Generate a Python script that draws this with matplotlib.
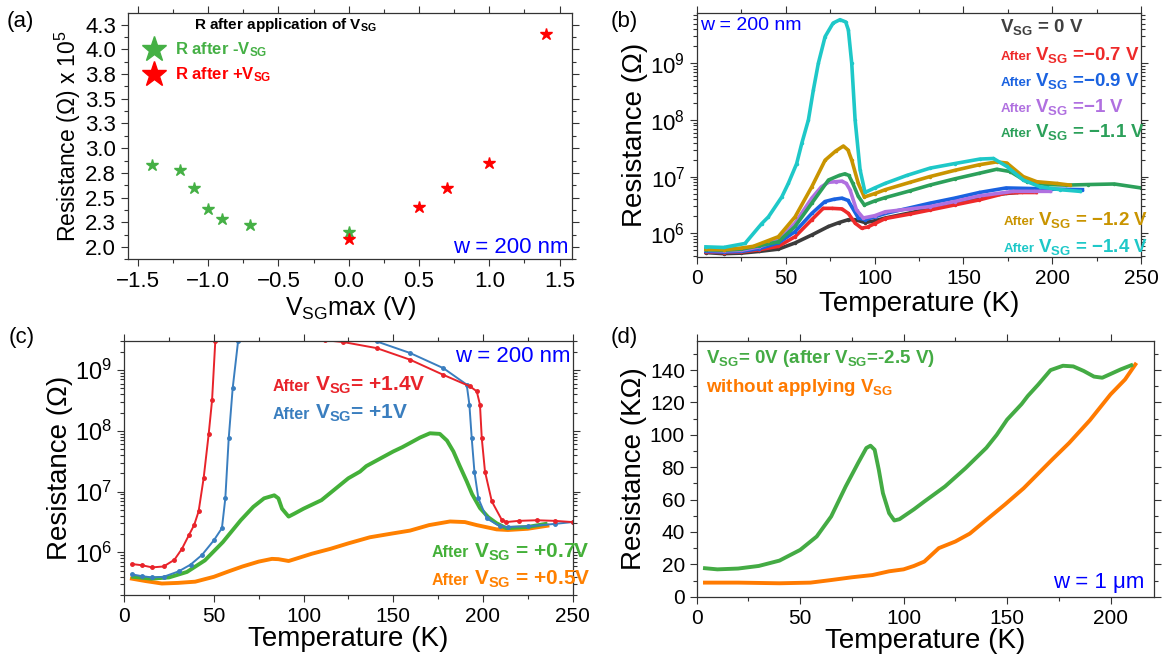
import matplotlib
matplotlib.use("Agg")
import matplotlib.pyplot as plt
import numpy as np
from matplotlib.ticker import MultipleLocator, FixedLocator

plt.rcParams['font.family'] = ['Liberation Sans', 'DejaVu Sans']
plt.rcParams['mathtext.fontset'] = 'custom'
plt.rcParams['mathtext.rm'] = 'Liberation Sans'
plt.rcParams['mathtext.bf'] = 'Liberation Sans:bold'
plt.rcParams['mathtext.it'] = 'Liberation Sans:italic'

# ---- (a) resistance after gate pulse ----
neg_v = [-1.4, -1.2, -1.1, -1.0, -0.9, -0.7, 0.0]
neg_r = [2.83, 2.78, 2.595, 2.38, 2.28, 2.226, 2.155]
pos_v = [0.0, 0.5, 0.7, 1.0, 1.4]
pos_r = [2.08, 2.40, 2.595, 2.85, 4.155]
a_yticks = [2.0, 2.25, 2.5, 2.75, 3.0, 3.25, 3.5, 3.75, 4.0, 4.25]
a_ylabels = ['2.0', '2.3', '2.5', '2.8', '3.0', '3.3', '3.5', '3.8', '4.0', '4.3']

# ---- (b) R(T), values are log10(R / Ohm) ----
b_t0 = [5, 15, 25, 35, 45.8, 55.2, 64.6, 74, 80, 85.2, 89, 94.6, 100, 106, 120, 131, 145, 159, 170, 180]
b_r0 = [5.66, 5.64, 5.65, 5.68, 5.72, 5.83, 5.97, 6.12, 6.19, 6.24, 6.24, 6.19, 6.22, 6.27, 6.36, 6.44, 6.53, 6.63, 6.69, 6.72]
b_t07 = [5, 15, 25, 35, 45.8, 55.2, 64.6, 71, 76, 81.6, 85.2, 89, 92.7, 96, 100, 106, 120, 131, 145, 159, 174, 183, 191]
b_r07 = [5.67, 5.66, 5.67, 5.71, 5.77, 5.94, 6.24, 6.44, 6.44, 6.43, 6.35, 6.18, 6.09, 6.11, 6.17, 6.26, 6.34, 6.41, 6.50, 6.59, 6.71, 6.72, 6.72]
b_t09 = [5, 15, 25, 35, 45.8, 55.2, 64.6, 72, 77, 81.6, 85, 87.1, 90.8, 94.6, 100, 106, 120, 131, 145, 159, 174, 188, 200, 217]
b_r09 = [5.68, 5.67, 5.68, 5.73, 5.83, 6.03, 6.35, 6.56, 6.60, 6.62, 6.58, 6.47, 6.27, 6.24, 6.29, 6.35, 6.45, 6.53, 6.62, 6.72, 6.80, 6.79, 6.78, 6.77]
b_t10 = [5, 15, 25, 35, 45.8, 55.2, 64.6, 70, 74, 78, 81.6, 84, 86.1, 89.8, 93.6, 100, 106, 120, 131, 145, 159, 178, 190, 199]
b_r10 = [5.70, 5.69, 5.70, 5.76, 5.88, 6.18, 6.62, 6.82, 6.90, 6.91, 6.92, 6.88, 6.77, 6.41, 6.27, 6.31, 6.38, 6.43, 6.47, 6.56, 6.66, 6.74, 6.74, 6.74]
b_t11 = [5, 15, 25, 35, 45.8, 55.2, 64.6, 74, 80, 83.3, 85.5, 87.7, 90.8, 94.2, 100, 106, 120, 131, 145, 159, 168.7, 176.3, 185.7, 197, 208, 220, 235, 250]
b_r11 = [5.71, 5.70, 5.72, 5.78, 5.85, 6.12, 6.53, 6.94, 7.02, 7.05, 7.02, 6.88, 6.65, 6.50, 6.57, 6.63, 6.75, 6.85, 6.96, 7.06, 7.13, 7.09, 6.91, 6.86, 6.85, 6.86, 6.87, 6.80]
b_t12 = [5, 15, 25, 31.7, 40, 45.8, 55.2, 64.6, 72.1, 78, 82.4, 85, 87.1, 90.8, 94.2, 100, 106, 120, 131, 145, 159, 168.7, 174.4, 183.7, 191.3, 202.5, 210]
b_r12 = [5.72, 5.71, 5.74, 5.77, 5.87, 5.94, 6.29, 6.82, 7.29, 7.45, 7.54, 7.47, 7.29, 6.88, 6.64, 6.70, 6.77, 6.90, 7.00, 7.11, 7.21, 7.26, 7.24, 7.00, 6.91, 6.88, 6.85]
b_t14 = [5, 15, 27, 36.4, 40.2, 47.7, 51.4, 56.1, 59, 62.7, 65.5, 68.3, 72.1, 76.6, 80.5, 83.7, 85.2, 87.1, 89, 91.8,
         94.6, 100, 105.9, 118, 131.2, 145, 159.3, 166.9, 174.4, 183.7, 193.1, 204.4, 215.6]
b_r14 = [5.76, 5.75, 5.82, 6.17, 6.29, 6.64, 6.88, 7.23, 7.59, 8.0, 8.53, 9.0, 9.47, 9.71, 9.77, 9.73, 9.59, 9.0, 8.0, 7.12,
         6.72, 6.80, 6.88, 7.02, 7.15, 7.23, 7.31, 7.32, 7.18, 6.94, 6.82, 6.77, 6.74]

# ---- (c) R(T) after positive V_SG, log10(R / Ohm) ----
c_t14 = [4.3, 10, 15.5, 22, 28, 32.2, 36, 39, 41.5, 44.3, 47.1, 49, 50.8, 52.5, 98, 104, 112, 122.2, 140.8, 159.4,
         178, 192.9, 196.6, 198.4, 199.4, 201.2, 205, 210.5, 213, 220, 230, 240, 250]
c_r14 = [5.81, 5.79, 5.755, 5.77, 5.88, 6.06, 6.28, 6.45, 6.675, 7.22, 7.94, 8.5, 9.47, 10.0, 10.0, 9.52, 9.49, 9.46, 9.36, 9.17,
         8.92, 8.73, 8.65, 8.43, 7.88, 7.33, 6.84, 6.54, 6.50, 6.52, 6.53, 6.52, 6.50]
c_t10 = [4.3, 10, 15.5, 22, 30.4, 37, 43.4, 50, 54.5, 56.4, 58.3, 60.5, 63.5, 65, 136, 140.8, 159.4, 178, 191,
         192.5, 193.8, 195.3, 197.5, 202.2, 209.6, 214, 225, 240, 250]
c_r10 = [5.64, 5.61, 5.59, 5.60, 5.69, 5.80, 5.96, 6.20, 6.40, 6.89, 7.88, 8.70, 9.47, 10.0, 10.0, 9.47, 9.28, 9.03, 8.76,
         8.43, 7.88, 7.33, 6.89, 6.56, 6.43, 6.42, 6.43, 6.47, 6.50]
c_t07 = [5, 15, 25, 35, 45, 55, 65, 72, 78, 83.7, 86, 88, 91.7, 95, 100, 105, 110, 115, 120, 125, 131.5, 135, 140, 145,
         150, 155, 159.4, 165, 170.5, 176, 180, 183.6, 187, 191, 194, 198.4, 203, 207.7, 213, 225, 235]
c_r07 = [5.60, 5.57, 5.59, 5.68, 5.87, 6.17, 6.53, 6.75, 6.89, 6.94, 6.89, 6.72, 6.59, 6.64, 6.72, 6.79, 6.86, 6.98,
         7.10, 7.22, 7.33, 7.42, 7.50, 7.58, 7.66, 7.73, 7.80, 7.89, 7.96, 7.95, 7.84, 7.66, 7.43, 7.17, 6.96, 6.73,
         6.58, 6.48, 6.40, 6.42, 6.47]
c_t05 = [4.3, 12, 21, 30, 39.6, 50, 58.3, 66, 75, 82.4, 86, 91.7, 95, 104.7, 115, 125, 137, 149, 159.4, 170, 181.7,
         190, 196.6, 207.7, 214, 225, 236]
c_r05 = [5.57, 5.53, 5.49, 5.50, 5.52, 5.60, 5.69, 5.77, 5.85, 5.895, 5.89, 5.86, 5.89, 5.98, 6.06, 6.15, 6.25, 6.31,
         6.36, 6.45, 6.51, 6.50, 6.45, 6.38, 6.37, 6.39, 6.44]

# ---- (d) w = 1 um device, R in kOhm ----
d_tg = [4, 10, 20, 30, 40, 50, 58, 65, 72, 78, 82, 84, 86, 88, 90, 93, 95.5, 98, 105, 110, 120, 130, 136, 140, 145,
        150, 157, 160, 165, 171, 177, 182, 187, 192, 196, 200, 205, 210]
d_rg = [17.6, 16.9, 17.4, 19.0, 22.3, 28.9, 37.2, 49.6, 68.1, 82.6, 91.9, 93.3, 90.8, 78.5, 64.0, 51.6, 47.1, 47.9,
        54.0, 58.8, 68.1, 79.5, 87.0, 92.0, 100.0, 109.4, 119.0, 124.0, 131.0, 140.0, 142.7, 142.3, 139.5, 136.0,
        135.3, 137.6, 140.5, 143.0]
d_to = [4, 20, 40, 55, 65, 75, 85, 93, 100, 105, 110, 117, 125, 132, 140, 149, 158, 165, 172, 180, 190, 200, 207, 212]
d_ro = [8.7, 8.7, 8.3, 8.7, 10.3, 12.0, 13.4, 15.7, 16.9, 19.0, 21.7, 30.0, 34.1, 39.0, 47.5, 57.0, 67.0, 76.0, 85.0,
        95.0, 109.0, 125.0, 134.2, 143.5]

SPINE = '#333333'


def style(ax, xs=15, ys=15):
    for s in ax.spines.values():
        s.set_color(SPINE)
        s.set_linewidth(0.9)
    ax.tick_params(which='both', direction='out', top=True, right=True, colors=SPINE, width=0.8)
    ax.tick_params(which='major', length=5)
    ax.tick_params(which='minor', length=3)
    ax.tick_params(axis='x', labelsize=xs, labelcolor='black')
    ax.tick_params(axis='y', labelsize=ys, labelcolor='black')


def after_label(ax, x, y, rest, color, small, big, gap=0.008):
    ax.text(x - gap, y, 'After', transform=ax.transAxes, ha='right', va='baseline',
            color=color, fontsize=small, fontweight='bold')
    ax.text(x, y, rest, transform=ax.transAxes, ha='left', va='baseline',
            color=color, fontsize=big, fontweight='bold')


fig = plt.figure(figsize=(11.66, 6.55), dpi=100)

# ================= (a)
ax = fig.add_axes([0.1098, 0.604, 0.381, 0.3765])
green_a = '#45b045'
ax.plot(neg_v, neg_r, '*', ls='none', color=green_a, ms=9, label=r'R after -V$_{\mathbf{SG}}$')
ax.plot(pos_v, pos_r, '*', ls='none', color='#ff0000', ms=9, label=r'R after +V$_{\mathbf{SG}}$')
ax.set_xlim(-1.57, 1.59)
ax.set_ylim(1.875, 4.37)
ax.xaxis.set_major_locator(MultipleLocator(0.5))
ax.xaxis.set_minor_locator(MultipleLocator(0.25))
ax.yaxis.set_major_locator(FixedLocator(a_yticks))
ax.set_yticklabels(a_ylabels)
ax.yaxis.set_minor_locator(MultipleLocator(0.125))
style(ax, 16, 16)
ax.set_xlabel(r'V$_{\mathregular{SG}}$max (V)', fontsize=18, labelpad=1)
ax.set_ylabel(r'Resistance (Ω) x 10$^{\mathregular{5}}$', fontsize=16.5, labelpad=2)
ax.text(0.355, 0.935, r'R after application of V$_{\mathbf{SG}}$', transform=ax.transAxes,
        ha='center', va='baseline', fontsize=11, fontweight='bold')
ax.legend(loc='upper left', bbox_to_anchor=(0.02, 0.915), frameon=False, markerscale=2.1,
          prop={'weight': 'bold', 'size': 12}, labelcolor='markerfacecolor',
          handletextpad=0.7, handlelength=1.2, borderaxespad=0, labelspacing=0.4)
ax.text(0.992, 0.024, 'w = 200 nm', transform=ax.transAxes, ha='right', va='baseline',
        color='#0000ff', fontsize=16)
fig.text(0.006, 0.959, '(a)', fontsize=16)

# ================= (b)
ax = fig.add_axes([0.5978, 0.6069, 0.3808, 0.3739])
b_curves = [
    (b_t0, b_r0, '#3c3c3c'),
    (b_t07, b_r07, '#ee2a2a'),
    (b_t09, b_r09, '#1a62e0'),
    (b_t10, b_r10, '#b070e0'),
    (b_t11, b_r11, '#2ca05a'),
    (b_t12, b_r12, '#c99400'),
    (b_t14, b_r14, '#1ec8c8'),
]
for t, r, c in b_curves:
    ax.plot(t, 10 ** np.array(r), color=c, lw=2.6, marker='.', ms=3)
ax.set_yscale('log')
ax.set_xlim(0, 250)
ax.set_ylim(3.74e5, 7.86e9)
ax.xaxis.set_major_locator(MultipleLocator(50))
ax.xaxis.set_minor_locator(MultipleLocator(25))
style(ax, 15, 16)
ax.set_xlabel('Temperature (K)', fontsize=20, labelpad=2)
ax.set_ylabel('Resistance (Ω)', fontsize=20, labelpad=2)
ax.text(0.007, 0.929, 'w = 200 nm', transform=ax.transAxes, ha='left', va='baseline',
        color='#0000ff', fontsize=14)
ax.text(0.682, 0.922, r'V$_{\mathbf{SG}}$ = 0 V', transform=ax.transAxes, ha='left', va='baseline',
        color='#404040', fontsize=13.5, fontweight='bold')
after_label(ax, 0.761, 0.806, r'V$_{\mathbf{SG}}$ =−0.7 V', '#ee2a2a', 9.5, 13.5)
after_label(ax, 0.761, 0.700, r'V$_{\mathbf{SG}}$ =−0.9 V', '#1a62e0', 9.5, 13.5)
after_label(ax, 0.761, 0.595, r'V$_{\mathbf{SG}}$ =−1 V', '#b070e0', 9.5, 13.5)
after_label(ax, 0.761, 0.493, r'V$_{\mathbf{SG}}$ = −1.1 V', '#2ca05a', 9.5, 13.5)
after_label(ax, 0.769, 0.133, r'V$_{\mathbf{SG}}$ = −1.2 V', '#c99400', 9.5, 13.5)
after_label(ax, 0.769, 0.024, r'V$_{\mathbf{SG}}$ = −1.4 V', '#1ec8c8', 9.5, 13.5)
fig.text(0.524, 0.959, '(b)', fontsize=16)

# ================= (c)
ax = fig.add_axes([0.1065, 0.0916, 0.3845, 0.3878])
ax.plot(c_t05, 10 ** np.array(c_r05), color='#ff8000', lw=2.8)
ax.plot(c_t07, 10 ** np.array(c_r07), color='#44b039', lw=2.8)
ax.plot(c_t10, 10 ** np.array(c_r10), color='#3a7ebf', lw=1.4, marker='o', ms=2.5)
ax.plot(c_t14, 10 ** np.array(c_r14), color='#e8232a', lw=1.4, marker='o', ms=2.5)
ax.set_yscale('log')
ax.set_xlim(0, 250)
ax.set_ylim(2.0e5, 3.0e9)
ax.xaxis.set_major_locator(MultipleLocator(50))
ax.xaxis.set_minor_locator(MultipleLocator(25))
style(ax, 15, 17)
ax.set_xlabel('Temperature (K)', fontsize=20, labelpad=0)
ax.set_ylabel('Resistance (Ω)', fontsize=20, labelpad=2)
after_label(ax, 0.425, 0.804, r'V$_{\mathbf{SG}}$= +1.4V', '#e8232a', 11.5, 15, gap=0.01)
after_label(ax, 0.425, 0.693, r'V$_{\mathbf{SG}}$= +1V', '#3a7ebf', 11.5, 15, gap=0.01)
after_label(ax, 0.78, 0.148, r'V$_{\mathbf{SG}}$ = +0.7V', '#44b039', 11.5, 15, gap=0.01)
after_label(ax, 0.78, 0.039, r'V$_{\mathbf{SG}}$ = +0.5V', '#ff8000', 11.5, 15, gap=0.01)
ax.text(0.996, 0.916, 'w = 200 nm', transform=ax.transAxes, ha='right', va='baseline',
        color='#0000ff', fontsize=16)
fig.text(0.0077, 0.476, '(c)', fontsize=16)

# ================= (d)
ax = fig.add_axes([0.5975, 0.0890, 0.3922, 0.3904])
ax.plot(d_to, d_ro, color='#ff7a00', lw=2.8)
ax.plot(d_tg, d_rg, color='#44ab44', lw=2.8)
ax.set_xlim(0, 221)
ax.set_ylim(0, 158)
ax.xaxis.set_major_locator(MultipleLocator(50))
ax.xaxis.set_minor_locator(MultipleLocator(25))
ax.yaxis.set_major_locator(MultipleLocator(20))
ax.yaxis.set_minor_locator(MultipleLocator(10))
style(ax, 15, 15)
ax.set_xlabel('Temperature (K)', fontsize=20, labelpad=0)
ax.set_ylabel('Resistance (KΩ)', fontsize=20, labelpad=2)
ax.text(0.02, 0.913, r'V$_{\mathbf{SG}}$= 0V (after V$_{\mathbf{SG}}$=-2.5 V)', transform=ax.transAxes,
        ha='left', va='baseline', color='#44ab44', fontsize=13.5, fontweight='bold')
ax.text(0.02, 0.802, r'without applying V$_{\mathbf{SG}}$', transform=ax.transAxes,
        ha='left', va='baseline', color='#ff7a00', fontsize=13.5, fontweight='bold')
ax.text(0.98, 0.033, 'w = 1 μm', transform=ax.transAxes, ha='right', va='baseline',
        color='#0000ff', fontsize=16)
fig.text(0.524, 0.476, '(d)', fontsize=16)

fig.savefig('out.png', dpi=100)
